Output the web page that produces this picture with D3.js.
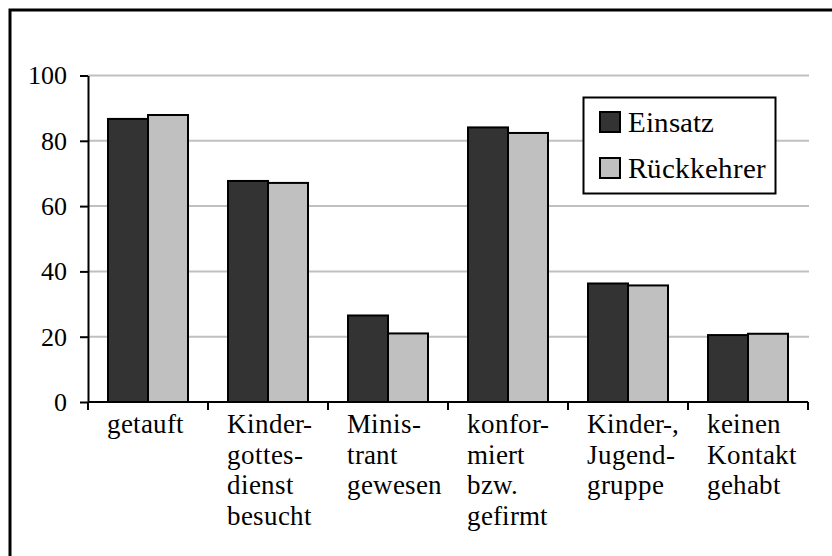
<!DOCTYPE html>
<html>
<head>
<meta charset="utf-8">
<script src="https://cdn.jsdelivr.net/npm/d3@7"></script>
<style>
  @font-face { font-family: "ChartSerif"; src: local("Liberation Serif"), local("LiberationSerif"); }
  body { margin: 0; background: #fff; font-family: "ChartSerif", "Liberation Serif", serif; }
</style>
</head>
<body>
<script>
// data
const categories = [
  'getauft',
  'Kinder-\ngottes-\ndienst\nbesucht',
  'Minis-\ntrant\ngewesen',
  'konfor-\nmiert\nbzw.\ngefirmt',
  'Kinder-,\nJugend-\ngruppe',
  'keinen\nKontakt\ngehabt'
]
const seriesNames = ['Einsatz', 'Rückkehrer']
const einsatz = [86.7, 67.7, 26.5, 84.1, 36.3, 20.5]
const rueckkehrer = [87.9, 67.1, 21.0, 82.4, 35.7, 20.9]
const yTicks = [0, 20, 40, 60, 80, 100]

const width = 832
const height = 556
const plotLeft = 88
const plotRight = 808
const plotTop = 75.5
const plotBottom = 402
const colors = ['#333333', '#c0c0c0']
const fontName = 'ChartSerif, Liberation Serif, serif'

const svg = d3.select('body').append('svg')
  .attr('width', width)
  .attr('height', height)
  .attr('font-family', fontName)

// frame
svg.append('rect')
  .attr('x', 10).attr('y', 10)
  .attr('width', 840).attr('height', 560)
  .attr('fill', 'none').attr('stroke', '#000').attr('stroke-width', 3)

const x0 = d3.scaleBand().domain(d3.range(categories.length)).range([plotLeft, plotRight])
const x1 = d3.scaleBand().domain(seriesNames).range([0, x0.bandwidth()]).paddingOuter(0.5)
const y = d3.scaleLinear().domain([0, 100]).range([plotBottom, plotTop])

// gridlines
svg.append('g')
  .selectAll('line')
  .data(yTicks.filter(d => d > 0))
  .enter()
  .append('line')
  .attr('x1', plotLeft).attr('x2', plotRight + 1)
  .attr('y1', d => y(d)).attr('y2', d => y(d))
  .attr('stroke', '#c0c0c0').attr('stroke-width', 2)

// bars
const rows = categories.map((c, i) => [einsatz[i], rueckkehrer[i]])
const groups = svg.append('g')
  .selectAll('g')
  .data(rows)
  .enter()
  .append('g')
  .attr('transform', (d, i) => 'translate(' + x0(i) + ',0)')

groups.selectAll('rect')
  .data(d => d.map((v, j) => ({ key: seriesNames[j], value: v, j: j })))
  .enter()
  .append('rect')
  .attr('x', d => x1(d.key))
  .attr('width', x1.bandwidth())
  .attr('y', d => y(d.value))
  .attr('height', d => plotBottom - y(d.value))
  .attr('fill', d => colors[d.j])
  .attr('stroke', '#000')
  .attr('stroke-width', 2)

// y axis
const yAxis = svg.append('g')
  .attr('transform', 'translate(' + plotLeft + ',0)')
  .call(d3.axisLeft(y).tickValues(yTicks).tickSize(8).tickPadding(13).tickSizeOuter(0))
  .attr('font-family', fontName)
  .attr('font-size', 26)
yAxis.select('.domain').attr('stroke-width', 2)
yAxis.selectAll('.tick line').attr('stroke-width', 2)
yAxis.selectAll('text')
  .attr('fill', '#000')
  .attr('font-family', fontName)

// x axis
const edges = d3.range(categories.length).map(i => x0(i)).concat([plotRight])
const xAxis = svg.append('g')
xAxis.append('line')
  .attr('x1', plotLeft).attr('x2', plotRight)
  .attr('y1', plotBottom).attr('y2', plotBottom)
  .attr('stroke', '#000').attr('stroke-width', 2)
xAxis.selectAll('.xtick')
  .data(edges)
  .enter()
  .append('line')
  .attr('x1', d => d).attr('x2', d => d)
  .attr('y1', plotBottom).attr('y2', plotBottom + 8)
  .attr('stroke', '#000').attr('stroke-width', 2)

const labels = xAxis.selectAll('.xlabel')
  .data(categories)
  .enter()
  .append('text')
  .attr('x', (d, i) => x0(i) + 19)
  .attr('y', plotBottom + 31)
  .attr('font-size', 26.5)
  .attr('font-family', fontName)

labels.selectAll('tspan')
  .data(d => d.split('\n'))
  .enter()
  .append('tspan')
  .attr('x', function () { return d3.select(this.parentNode).attr('x') })
  .attr('dy', (d, i) => (i === 0 ? 0 : 30.5))
  .text(d => d)

// legend
const legend = svg.append('g')
legend.append('rect')
  .attr('x', 583.5).attr('y', 97.5)
  .attr('width', 192).attr('height', 96)
  .attr('fill', '#fff').attr('stroke', '#000').attr('stroke-width', 2)

const items = legend.selectAll('.item')
  .data(seriesNames)
  .enter()
  .append('g')
  .attr('transform', (d, i) => 'translate(600,' + (112 + i * 46) + ')')
items.append('rect')
  .attr('width', 20).attr('height', 20)
  .attr('fill', (d, i) => colors[i])
  .attr('stroke', '#000').attr('stroke-width', 2)
items.append('text')
  .attr('x', 28).attr('y', 20)
  .attr('font-size', 29)
  .attr('font-family', fontName)
  .text(d => d)
</script>
</body>
</html>
